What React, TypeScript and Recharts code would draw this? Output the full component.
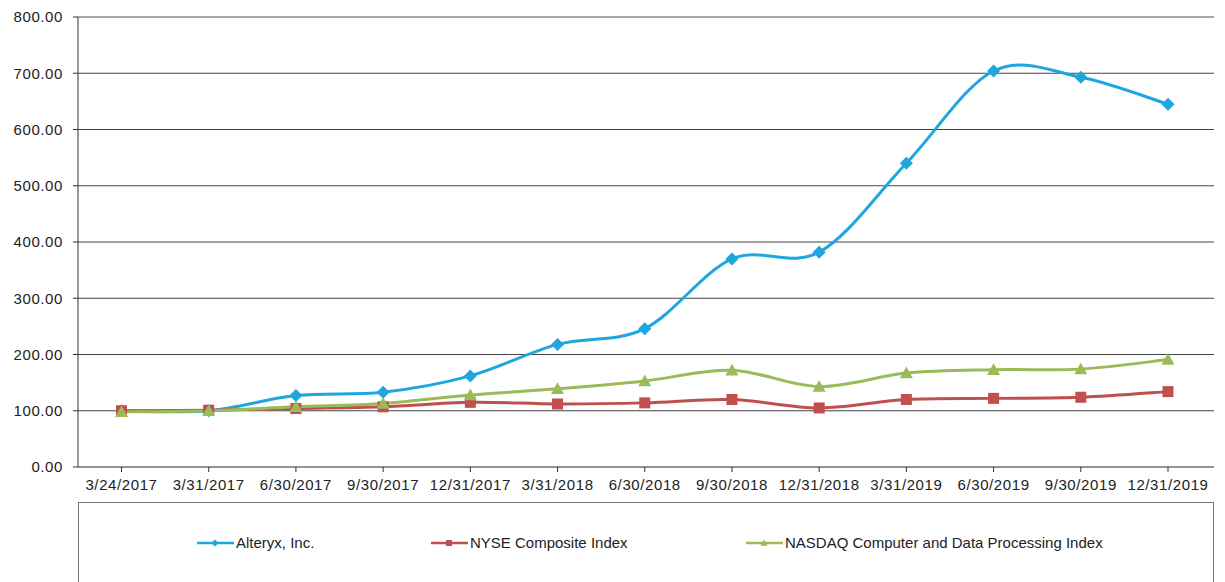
import React from "react";
import { LineChart, Line, XAxis, YAxis, CartesianGrid, Legend, ReferenceLine } from "recharts";

const DATES = [
  "3/24/2017", "3/31/2017", "6/30/2017", "9/30/2017", "12/31/2017", "3/31/2018", "6/30/2018",
  "9/30/2018", "12/31/2018", "3/31/2019", "6/30/2019", "9/30/2019", "12/31/2019",
];
const ALTERYX = [100, 100, 127, 133, 162, 218, 246, 370, 382, 540, 704, 693, 645];
const NYSE = [100, 101, 104, 107, 115, 112, 114, 120, 105, 120, 122, 124, 134];
const NASDAQ = [98, 100, 107, 113, 128, 139, 153, 172, 143, 167, 173, 174, 191];
const Y_TICKS = [0, 100, 200, 300, 400, 500, 600, 700, 800];

const SERIES = [
  { key: "alteryx", name: "Alteryx, Inc.", color: "#1ea6de", shape: "diamond" },
  { key: "nyse", name: "NYSE Composite Index", color: "#c0504d", shape: "square" },
  { key: "nasdaq", name: "NASDAQ Computer and Data Processing Index", color: "#9bbb59", shape: "triangle" },
];

const data = DATES.map((d, i) => ({ date: d, alteryx: ALTERYX[i], nyse: NYSE[i], nasdaq: NASDAQ[i] }));

const FONT = '"Liberation Sans", Arial, sans-serif';

// excel-style smoothing (catmull-rom as bezier)
const excelSmooth = (context: any) => {
  let pts: number[][] = [];
  return {
    areaStart() {},
    areaEnd() {},
    lineStart() {
      pts = [];
    },
    point(x: number, y: number) {
      pts.push([+x, +y]);
    },
    lineEnd() {
      const n = pts.length;
      if (!n) return;
      context.moveTo(pts[0][0], pts[0][1]);
      for (let i = 0; i < n - 1; i++) {
        const p0 = pts[i - 1] || pts[i];
        const p1 = pts[i];
        const p2 = pts[i + 1];
        const p3 = pts[i + 2] || p2;
        context.bezierCurveTo(
          p1[0] + (p2[0] - p0[0]) / 6,
          p1[1] + (p2[1] - p0[1]) / 6,
          p2[0] - (p3[0] - p1[0]) / 6,
          p2[1] - (p3[1] - p1[1]) / 6,
          p2[0],
          p2[1]
        );
      }
    },
  };
};

function Marker({ shape, cx, cy, color, s = 1 }: any) {
  if (shape === "diamond") {
    const r = 6.5 * s;
    return <path d={`M${cx},${cy - r}L${cx + r},${cy}L${cx},${cy + r}L${cx - r},${cy}Z`} fill={color} />;
  }
  if (shape === "square") {
    const r = 5.5 * s;
    return <rect x={cx - r} y={cy - r} width={2 * r} height={2 * r} fill={color} />;
  }
  const r = 6.5 * s;
  return <path d={`M${cx},${cy - r}L${cx + r},${cy + r * 0.8}L${cx - r},${cy + r * 0.8}Z`} fill={color} />;
}

const makeDot = (shape: string, color: string) => (props: any) => {
  const { cx, cy, index } = props;
  if (cx == null || cy == null) return <g key={index} />;
  return (
    <g key={`${shape}-${index}`}>
      <Marker shape={shape} cx={cx} cy={cy} color={color} />
    </g>
  );
};

const ITEM_X = [118, 352, 667];

function LegendBox() {
  return (
    <div
      style={{
        position: "relative",
        width: "100%",
        height: "100%",
        boxSizing: "border-box",
        border: "1px solid #777",
        borderBottom: "none",
        fontFamily: FONT,
        fontSize: 15,
        color: "#222",
      }}
    >
      {SERIES.map((s, i) => (
        <div
          key={s.key}
          style={{ position: "absolute", left: ITEM_X[i], top: 31, display: "flex", alignItems: "center", whiteSpace: "nowrap" }}
        >
          <svg width={37} height={12} style={{ marginRight: 2 }}>
            <line x1={0} y1={6} x2={37} y2={6} stroke={s.color} strokeWidth={2.5} />
            <Marker shape={s.shape} cx={18} cy={6} color={s.color} s={0.55} />
          </svg>
          <span>{s.name}</span>
        </div>
      ))}
    </div>
  );
}

export default function App() {
  const tickStyle = { fontFamily: FONT, fontSize: 15, fill: "#222", letterSpacing: 0.6 };
  return (
    <div style={{ width: 1225, height: 582, background: "#fff" }}>
      <style>{`body{margin:0}`}</style>
      <LineChart width={1225} height={582} data={data} margin={{ top: 17, right: 11, left: 0, bottom: 0 }}>
        <CartesianGrid vertical={false} stroke="#444" strokeWidth={1} yAxisId="left" />
        <ReferenceLine y={800} yAxisId="left" stroke="#aaa" strokeWidth={1} />
        <XAxis
          dataKey="date"
          interval={0}
          height={35}
          padding={{ left: 43.5, right: 46 }}
          axisLine={{ stroke: "#888" }}
          tickLine={{ stroke: "#333" }}
          tickSize={5}
          tickMargin={7}
          tick={tickStyle}
        />
        <YAxis
          yAxisId="left"
          width={78}
          domain={[0, 800]}
          ticks={Y_TICKS}
          interval={0}
          tickFormatter={(v: number) => v.toFixed(2)}
          axisLine={{ stroke: "#333" }}
          tickLine={{ stroke: "#333" }}
          tickSize={5}
          tickMargin={10}
          tick={tickStyle}
        />
        <YAxis yAxisId="right" orientation="right" width={0} tick={false} tickLine={false} axisLine={{ stroke: "#bbb" }} />
        <Legend
          verticalAlign="bottom"
          content={() => <LegendBox />}
          wrapperStyle={{ left: 78, top: 502, bottom: "auto", width: 1136, height: 80 }}
        />
        {SERIES.map((s) => (
          <Line
            key={s.key}
            yAxisId="left"
            dataKey={s.key}
            name={s.name}
            type={excelSmooth as any}
            stroke={s.color}
            strokeWidth={3}
            dot={makeDot(s.shape, s.color)}
            activeDot={false}
            isAnimationActive={false}
          />
        ))}
      </LineChart>
    </div>
  );
}
